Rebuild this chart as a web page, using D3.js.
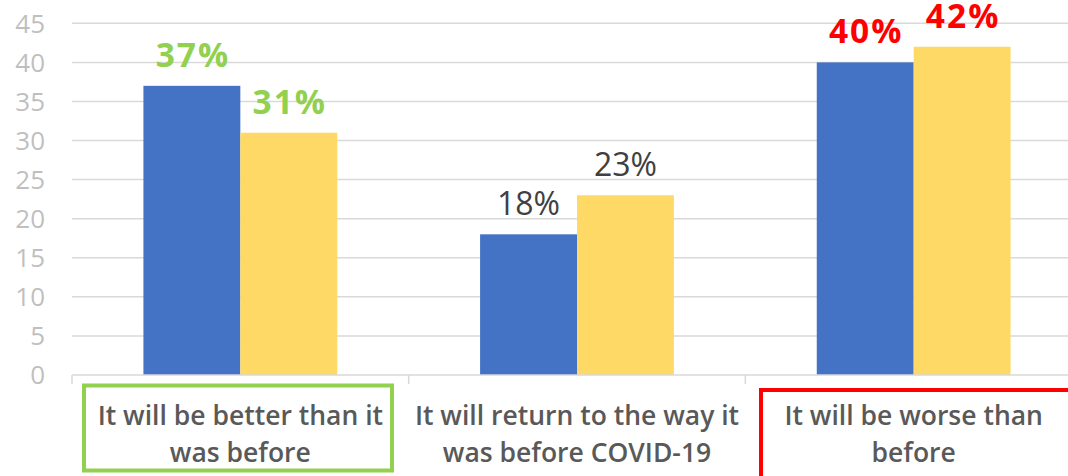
<!DOCTYPE html>
<html>
<head>
<meta charset="utf-8">
<script src="https://cdn.jsdelivr.net/npm/d3@7"></script>
<style>
  html, body { margin: 0; padding: 0; background: #ffffff; overflow: hidden; }
  svg { display: block; }
</style>
</head>
<body>
<svg id="chart" width="1068" height="476"></svg>
<script>
// ---- data ----
const categories = ["better", "same", "worse"];
const categoryLines = [
  ["It will be better than it", "was before"],
  ["It will return to the way it", "was before COVID-19"],
  ["It will be worse than", "before"]
];
const seriesNames = ["A", "B"];
const seriesA = [37, 18, 40];
const seriesB = [31, 23, 42];
const yTicks = [0, 5, 10, 15, 20, 25, 30, 35, 40, 45];

// ---- styles ----
const seriesColors = ["#4472c4", "#ffd966"];
const labelColors = ["#92d050", "#404040", "#ff0000"];
const labelWeights = [700, 400, 700];
const boxColors = ["#92d050", null, "#ff0000"];

const svg = d3.select("#chart");
const W = 1068, H = 476;

const x0 = d3.scaleBand().domain(categories).range([72, 1082]).paddingInner(0).paddingOuter(0);
const x1 = d3.scaleBand().domain(seriesNames).range([0, x0.bandwidth()]).paddingInner(0).paddingOuter(0.737);
const y = d3.scaleLinear().domain([0, 45]).range([375, 23.3]);

// gridlines
svg.append("g")
  .selectAll("line")
  .data(yTicks.filter(d => d > 0))
  .join("line")
  .attr("x1", 72).attr("x2", W)
  .attr("y1", d => y(d)).attr("y2", d => y(d))
  .attr("stroke", "#d9d9d9").attr("stroke-width", 1.5);

// y axis labels
const yAxis = d3.axisLeft(y).tickValues(yTicks).tickSize(0).tickPadding(0);
const yg = svg.append("g").attr("transform", "translate(45,0)").call(yAxis);
yg.select(".domain").remove();
yg.selectAll("text")
  .attr("fill", "#bfbfbf")
  .style("font-family", "'Open Sans', sans-serif")
  .style("font-size", "26px")
  .attr("dy", "0.34em");

// bars
const rows = categories.map((c, i) => ({ c, i, vals: [seriesA[i], seriesB[i]] }));
const groups = svg.append("g").selectAll("g")
  .data(rows).join("g")
  .attr("transform", d => `translate(${x0(d.c)},0)`);

groups.selectAll("rect")
  .data(d => d.vals.map((v, k) => ({ v, k, s: seriesNames[k], i: d.i })))
  .join("rect")
  .attr("x", d => x1(d.s))
  .attr("width", x1.bandwidth())
  .attr("y", d => y(d.v))
  .attr("height", d => y(0) - y(d.v))
  .attr("fill", d => seriesColors[d.k]);

// value labels
groups.selectAll("text.val")
  .data(d => d.vals.map((v, k) => ({ v, k, s: seriesNames[k], i: d.i })))
  .join("text")
  .attr("class", "val")
  .attr("x", d => x1(d.s) + x1.bandwidth() / 2 + (labelWeights[d.i] === 700 ? 1 : 0))
  .attr("y", d => y(d.v) - 19)
  .attr("text-anchor", "middle")
  .attr("fill", d => labelColors[d.i])
  .style("font-family", "'Open Sans', sans-serif")
  .style("font-weight", d => labelWeights[d.i])
  .style("font-size", d => labelWeights[d.i] === 700 ? "33.5px" : "32px")
  .style("letter-spacing", d => labelWeights[d.i] === 700 ? "2px" : "0px")
  .text(d => d.v + "%");

// x axis line and boundary ticks
svg.append("line")
  .attr("x1", 72).attr("x2", W)
  .attr("y1", y(0)).attr("y2", y(0))
  .attr("stroke", "#d9d9d9").attr("stroke-width", 1.5);

const boundaries = categories.map(c => x0(c));
svg.append("g").selectAll("line")
  .data(boundaries)
  .join("line")
  .attr("x1", d => d).attr("x2", d => d)
  .attr("y1", y(0)).attr("y2", y(0) + 9)
  .attr("stroke", "#d9d9d9").attr("stroke-width", 1.5);

// category labels
const catG = svg.append("g").selectAll("g")
  .data(categories.map((c, i) => ({ c, i, lines: categoryLines[i] })))
  .join("g");

catG.each(function(d) {
  const g = d3.select(this);
  const cx = x0(d.c) + x0.bandwidth() / 2;
  g.selectAll("text")
    .data(d.lines)
    .join("text")
    .attr("x", cx)
    .attr("y", (t, j) => 425 + j * 36.5)
    .attr("text-anchor", "middle")
    .attr("fill", "#595959")
    .style("font-family", "'Open Sans', sans-serif")
    .style("font-weight", 600)
    .style("font-size", "26.5px")
    .text(t => t);
});

// highlight boxes
svg.append("rect")
  .attr("x", 84).attr("y", 385.5).attr("width", 308).attr("height", 85)
  .attr("fill", "none").attr("stroke", boxColors[0]).attr("stroke-width", 4);
svg.append("rect")
  .attr("x", 761).attr("y", 390).attr("width", 330).attr("height", 120)
  .attr("fill", "none").attr("stroke", boxColors[2]).attr("stroke-width", 4);
</script>
</body>
</html>
